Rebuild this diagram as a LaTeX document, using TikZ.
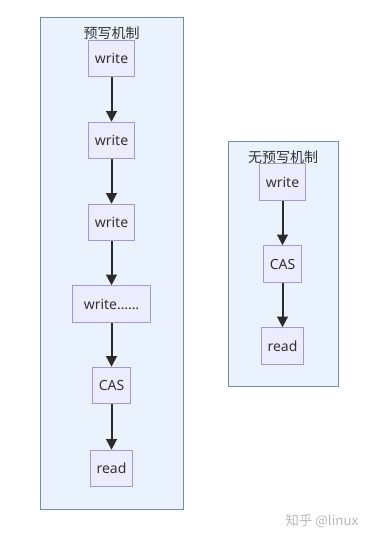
\documentclass[tikz,border=0pt]{standalone}
\usepackage{fontspec}
\setmainfont{Noto Sans}
\newfontfamily\cjkfont{Noto Sans CJK SC}
\usetikzlibrary{arrows.meta,positioning}

\definecolor{clusterfill}{HTML}{EAF3FD}
\definecolor{clusterline}{HTML}{6F8FAD}
\definecolor{boxfill}{HTML}{ECECFF}
\definecolor{boxline}{HTML}{A596D8}
\definecolor{flowline}{HTML}{2B2B2B}

\begin{document}
\begin{tikzpicture}[x=0.75pt,y=-0.75pt,>=Latex,
    cluster/.style={draw=clusterline,fill=clusterfill,line width=0.6pt},
    title/.style={font=\cjkfont\fontsize{10.5}{12}\selectfont,text=black!80,inner sep=0pt},
    box/.style={draw=boxline,fill=boxfill,line width=0.6pt,minimum height=27.5pt,
      inner sep=0pt,font=\fontsize{10.5}{12}\selectfont,text=black!80},
    flow/.style={->,draw=flowline,line width=1.5pt,
      >={Triangle[length=8pt,width=8pt]}}]
  \useasboundingbox (0,0) rectangle (370,542);
  \fill[white] (0,0) rectangle (370,542);
  % with write-ahead
  \draw[cluster] (40,17) rectangle (183,509);
  \node[title] (pretitle) at (111.5,33) {预写机制};
  \node[box,minimum width=35pt] (w1) at (111.5,58.5) {write};
  \node[box,minimum width=35pt] (w2) at (111.5,140.5) {write};
  \node[box,minimum width=35pt] (w3) at (111.5,222.5) {write};
  \node[box,minimum width=59pt] (w4) at (111.5,304) {write……};
  \node[box,minimum width=28pt] (cas) at (111.5,385.5) {CAS};
  \node[box,minimum width=31.5pt] (rd) at (111.5,468.5) {read};
  \foreach \a/\b in {w1/w2,w2/w3,w3/w4,w4/cas,cas/rd}
    \draw[flow] (\a) -- (\b);
  % without write-ahead
  \draw[cluster] (228,141) rectangle (338,386);
  \node[title] (notitle) at (283,157) {无预写机制};
  \node[box,minimum width=35pt] (nw) at (282.5,182) {write};
  \node[box,minimum width=28pt] (ncas) at (282.5,264) {CAS};
  \node[box,minimum width=31.5pt] (nrd) at (282.5,346) {read};
  \draw[flow] (nw) -- (ncas);
  \draw[flow] (ncas) -- (nrd);
  \node[font=\cjkfont\fontsize{10}{12}\selectfont,text=black!28] (mark) at (322,521) {知乎 @linux};
\end{tikzpicture}
\end{document}
